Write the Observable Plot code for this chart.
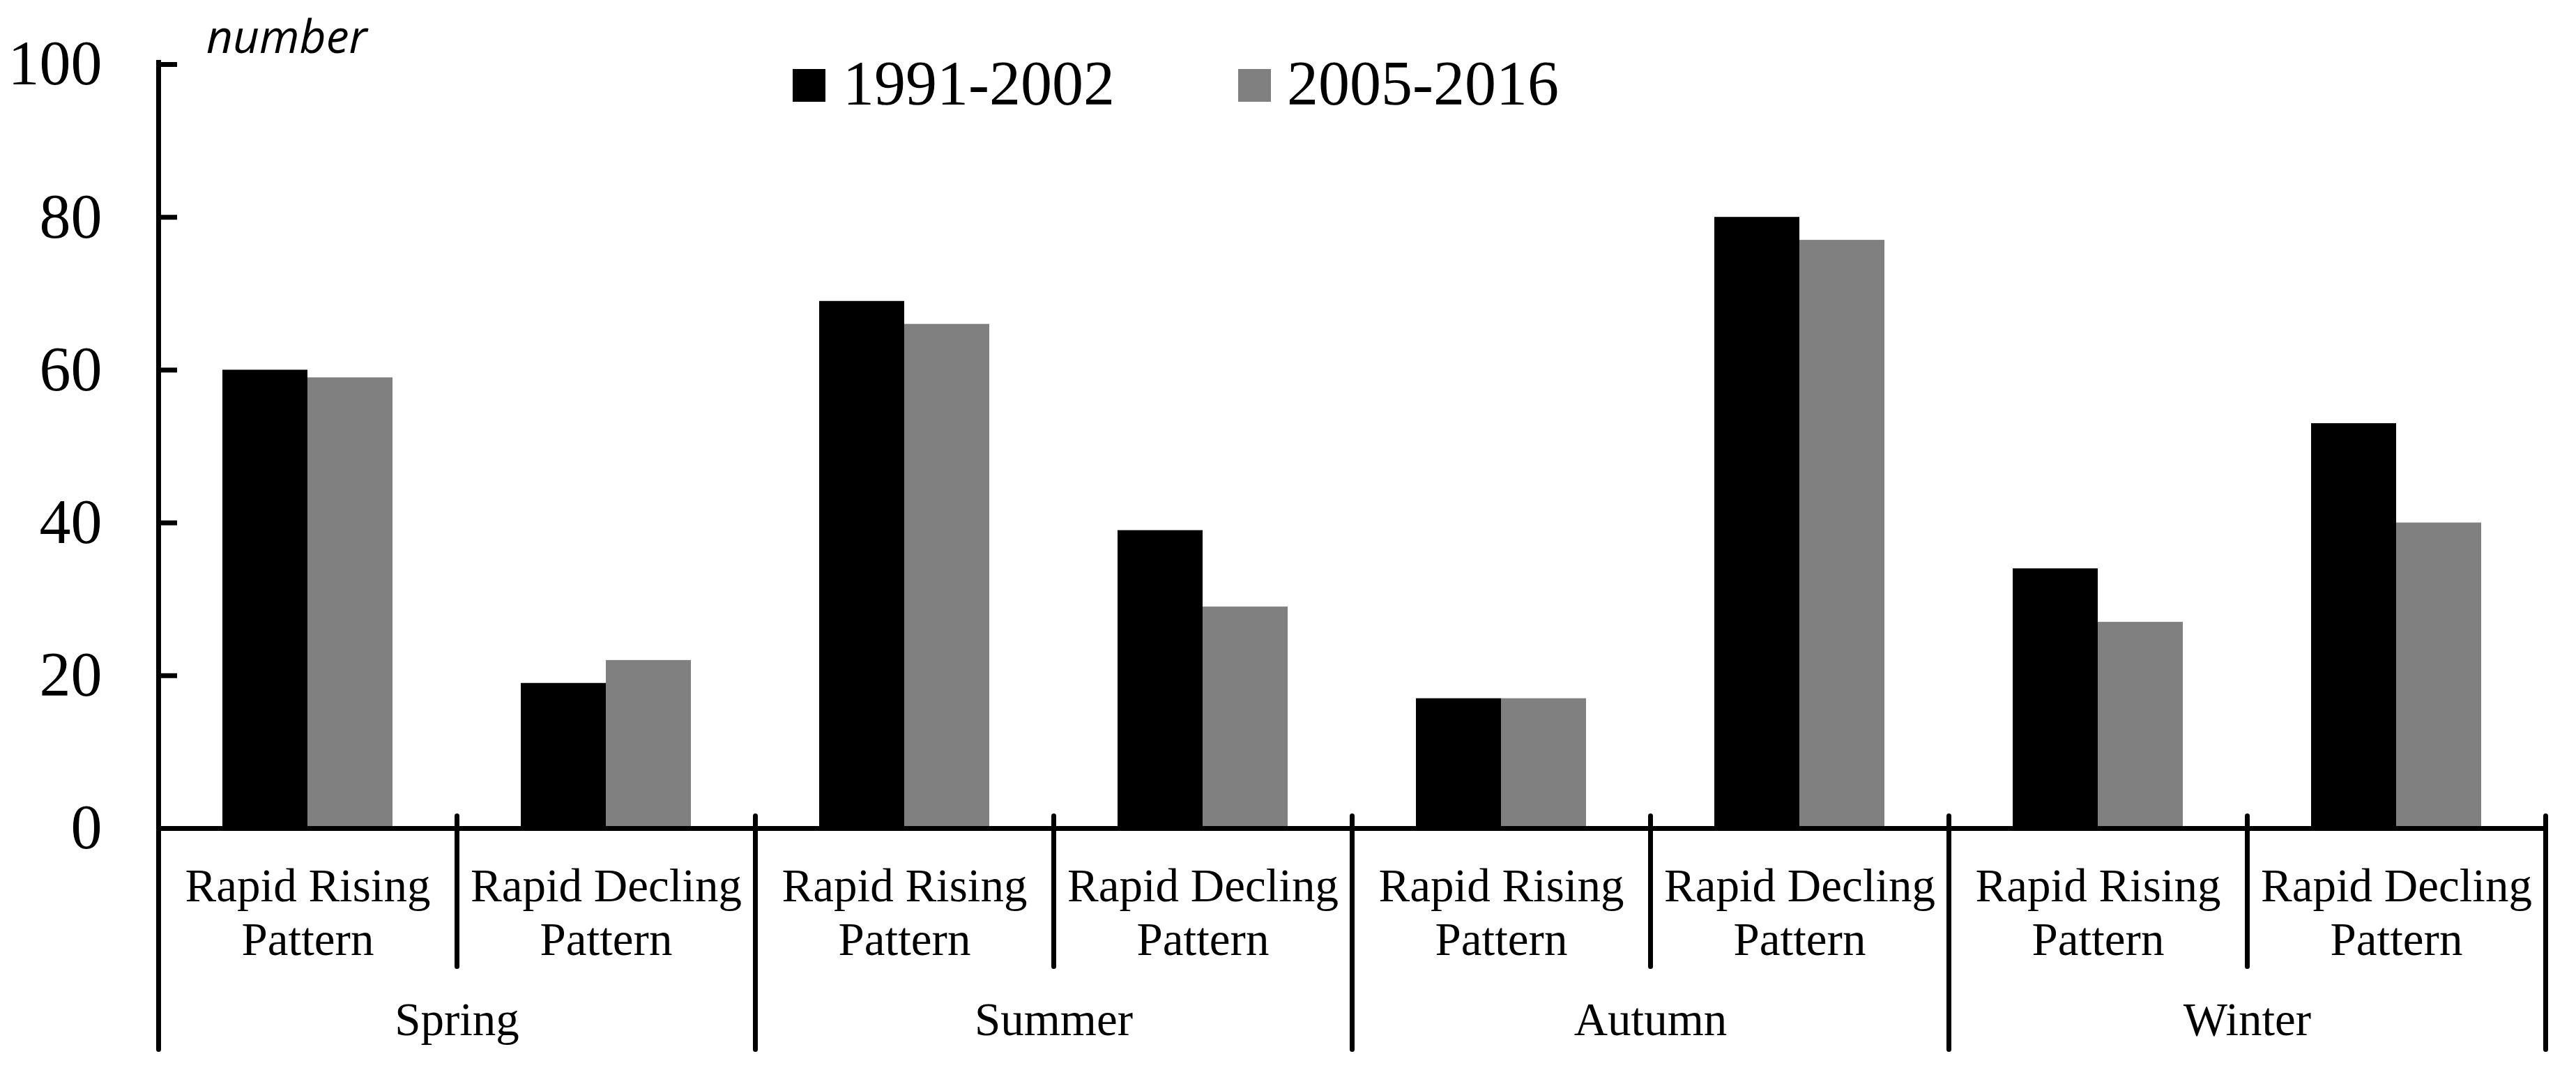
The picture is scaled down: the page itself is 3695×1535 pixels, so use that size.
<!DOCTYPE html>
<html><head><meta charset="utf-8">
<script src="https://cdn.jsdelivr.net/npm/d3@7"></script>
<script src="https://cdn.jsdelivr.net/npm/@observablehq/plot@0.6"></script>
<style>
html,body{margin:0;padding:0;background:#fff;}
#wrap{position:relative;width:3695px;height:1535px;overflow:hidden;}
.leg{position:absolute;font-family:"Liberation Serif","Times New Roman",serif;font-size:90px;line-height:1;white-space:nowrap;color:#000;}
.sw{position:absolute;width:47px;height:47px;}
#ylab{position:absolute;left:296px;top:17px;font-family:"Open Sans",sans-serif;font-style:italic;font-size:66px;line-height:1;color:#000;}
</style></head><body><div id="wrap"></div>
<script>
// ---- data ----
const seasons = ["Spring", "Summer", "Autumn", "Winter"];
const patterns = ["Rapid Rising\nPattern", "Rapid Decling\nPattern"];
const periods = ["1991-2002", "2005-2016"];
const colors = ["#000000", "#808080"];
const values1991 = [60, 19, 69, 39, 17, 80, 34, 53];
const values2005 = [59, 22, 66, 29, 17, 77, 27, 40];
const yTicks = [0, 20, 40, 60, 80, 100];
const yLabel = "number";

// ---- build table ----
const subcats = [];
seasons.forEach(s => patterns.forEach(p => subcats.push({key: s + "|" + p, season: s, pattern: p})));
const keys = subcats.map(d => d.key);
const rows = [];
subcats.forEach((c, i) => {
  rows.push({key: c.key, period: periods[0], value: values1991[i]});
  rows.push({key: c.key, period: periods[1], value: values2005[i]});
});
const seasonFirst = seasons.map(s => ({season: s, key: subcats.find(c => c.season === s).key}));
const innerDividers = subcats.filter((c, i) => i % 2 === 1).map(c => c.key);
const groupDividers = subcats.filter((c, i) => i % 2 === 0).map(c => c.key);
const lastKey = [keys[keys.length - 1]];

const downLine = {draw(context, l) { context.moveTo(0, 0); context.lineTo(0, l); }};
const serif = "Liberation Serif, Times New Roman, serif";
const sw = 7;

const chart = Plot.plot({
  width: 3695,
  height: 1535,
  marginLeft: 227,
  marginRight: 44,
  marginTop: 92,
  marginBottom: 347,
  style: {fontFamily: serif, fontSize: "67px", background: "#fff", color: "#000"},
  fx: {domain: keys, padding: 0, axis: null, label: null},
  x: {domain: periods, paddingInner: 0, paddingOuter: 0.747, axis: null, label: null},
  y: {domain: [0, 100], label: null},
  color: {domain: periods, range: colors},
  marks: [
    Plot.barY(rows, {fx: "key", x: "period", y: "value", fill: "period"}),
    Plot.ruleY([0], {strokeWidth: sw, stroke: "#000"}),
    Plot.frame({anchor: "left", facetAnchor: "left", strokeWidth: sw, stroke: "#000", insetTop: -3}),
    Plot.axisY({ticks: yTicks, tickSize: -27, tickPadding: 108, strokeWidth: sw, fontSize: 90, fontFamily: serif, label: null}),
    Plot.vector(innerDividers, {fx: d => d, frameAnchor: "bottom-left", dy: -18, length: 216, anchor: "start", shape: downLine, strokeWidth: sw, stroke: "#000"}),
    Plot.vector(groupDividers, {fx: d => d, frameAnchor: "bottom-left", dy: -18, length: 335, anchor: "start", shape: downLine, strokeWidth: sw, stroke: "#000"}),
    Plot.vector(lastKey, {fx: d => d, frameAnchor: "bottom-right", dy: -18, length: 335, anchor: "start", shape: downLine, strokeWidth: sw, stroke: "#000"}),
    Plot.text(subcats, {fx: "key", text: "pattern", frameAnchor: "bottom", textAnchor: "middle", lineAnchor: "top", lineHeight: 1.145, dy: 50, fontSize: 67}),
    Plot.text(seasonFirst, {fx: "key", text: "season", frameAnchor: "bottom-right", textAnchor: "middle", lineAnchor: "top", dy: 249, fontSize: 67})
  ]
});

const wrap = document.getElementById("wrap");
wrap.appendChild(chart);

// legend (overlaid at top)
const legPos = [{sq: 1137, tx: 1209}, {sq: 1776, tx: 1846}];
periods.forEach((p, i) => {
  const s = document.createElement("div");
  s.className = "sw";
  s.style.left = legPos[i].sq + "px";
  s.style.top = "99px";
  s.style.background = colors[i];
  wrap.appendChild(s);
  const t = document.createElement("div");
  t.className = "leg";
  t.style.left = legPos[i].tx + "px";
  t.style.top = "75px";
  t.textContent = p;
  wrap.appendChild(t);
});
const yl = document.createElement("div");
yl.id = "ylab";
yl.textContent = yLabel;
wrap.appendChild(yl);
</script>
</body></html>
